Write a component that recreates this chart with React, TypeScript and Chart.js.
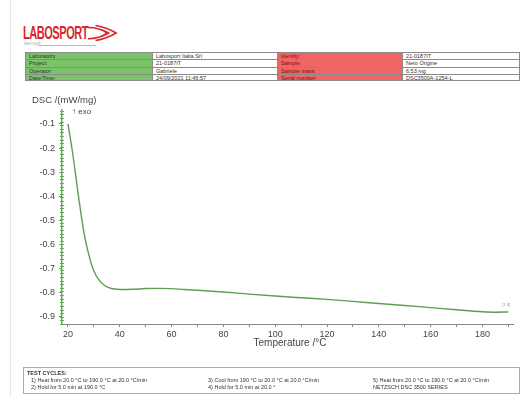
import React, { useEffect, useRef } from "react";
import { Chart, registerables } from "chart.js";

Chart.register(...registerables);

// ---- data ----
const temperatures = [20, 21, 22, 23, 24, 25, 26, 27, 28, 29, 30, 32, 34, 36, 38, 40, 45, 50, 55, 60, 65, 70, 80, 90, 100, 110, 120, 130, 140, 150, 160, 170, 180, 185, 190];
const dscValues = [-0.1, -0.165, -0.235, -0.315, -0.395, -0.47, -0.54, -0.595, -0.64, -0.68, -0.71, -0.748, -0.769, -0.78, -0.785, -0.787, -0.786, -0.783, -0.782, -0.783, -0.787, -0.79, -0.797, -0.806, -0.814, -0.821, -0.828, -0.836, -0.845, -0.853, -0.862, -0.871, -0.879, -0.881, -0.88];
const xTicks = [20, 30, 40, 50, 60, 70, 80, 90, 100, 110, 120, 130, 140, 150, 160, 170, 180, 190];
const xLabelTicks = [20, 40, 60, 80, 100, 120, 140, 160, 180];
const yTicks = [-0.9, -0.8, -0.7, -0.6, -0.5, -0.4, -0.3, -0.2, -0.1];

const headerLabelsLeft = ["Laboratory:", "Project:", "Operator:", "Date/Time:"];
const headerValuesLeft = ["Labosport Italia Srl", "21-0187IT", "Gabriele", "24/09/2021 11:45:57"];
const headerLabelsRight = ["Identity:", "Sample:", "Sample mass:", "Serial number:"];
const headerValuesRight = ["21-0187IT", "Nero Origine", "6.53 mg", "DSC3500A-1254-L"];

const cyclesCol1 = ["1) Heat from 20.0 °C to 190.0 °C at 20.0 °C/min", "2) Hold for 5.0 min at 190.0 °C"];
const cyclesCol2 = ["3) Cool from 190 °C to 20.0 °C at 20.0 °C/min", "4) Hold for 5.0 min at 20.0 °"];
const cyclesCol3 = ["5) Heat from 20.0 °C to 190.0 °C at 20.0 °C/min", "NETZSCH DSC 3500 SERIES"];

const FONT = "'Liberation Sans', Arial, sans-serif";
const GREEN_AXIS = "#5fae54";
const CURVE = "#5e9e52";

const overlayPlugin = {
  id: "overlayTexts",
  afterDraw(chart: any) {
    const ctx = chart.ctx;
    const { left, top } = chart.chartArea;
    const ys = chart.scales.y;
    const xs = chart.scales.x;
    ctx.save();
    // minor ticks on y axis
    ctx.strokeStyle = GREEN_AXIS;
    ctx.lineWidth = 1;
    for (let i = 0; i <= 60; i++) {
      const v = -0.93 + i * 0.015;
      const py = Math.round(ys.getPixelForValue(v)) + 0.5;
      if (py < top) break;
      ctx.beginPath();
      ctx.moveTo(left - 2, py);
      ctx.lineTo(left + 2, py);
      ctx.stroke();
    }
    ctx.fillStyle = "#444";
    ctx.textBaseline = "middle";
    ctx.textAlign = "left";
    ctx.font = `9.5px ${FONT}`;
    ctx.fillText("DSC /(mW/mg)", 32, 100);
    ctx.font = `8px ${FONT}`;
    ctx.fillText("\u2191 exo", 72, 112);
    ctx.font = `10px ${FONT}`;
    ctx.textAlign = "center";
    ctx.fillText("Temperature /\u00B0C", 290, 343);
    // small end label
    const lastX = xs.getPixelForValue(temperatures[temperatures.length - 1]);
    const lastY = ys.getPixelForValue(dscValues[dscValues.length - 1]);
    ctx.font = `4px ${FONT}`;
    ctx.fillStyle = "#999";
    ctx.textAlign = "center";
    ctx.fillText("[1.8]", lastX - 2, lastY - 7);
    ctx.restore();
  },
};

function DscChart() {
  const ref = useRef<HTMLCanvasElement | null>(null);
  useEffect(() => {
    if (!ref.current) return;
    const chart = new Chart(ref.current, {
      type: "line",
      data: {
        datasets: [
          {
            data: temperatures.map((t, i) => ({ x: t, y: dscValues[i] })),
            borderColor: CURVE,
            borderWidth: 1.4,
            pointRadius: 0,
            tension: 0.4,
            cubicInterpolationMode: "monotone",
            fill: false,
          },
        ],
      },
      options: {
        responsive: false,
        animation: false,
        devicePixelRatio: 1,
        layout: { padding: { left: 0, top: 110, right: 11, bottom: 52 } },
        plugins: { legend: { display: false }, tooltip: { enabled: false } },
        scales: {
          x: {
            type: "linear",
            min: 17.7,
            max: 191.8,
            afterFit: (s: any) => { s.height = 20; },
            afterBuildTicks: (s: any) => { s.ticks = xTicks.map((v) => ({ value: v })); },
            grid: { display: true, drawOnChartArea: false, drawTicks: true, tickLength: 3, color: "#888" },
            border: { display: true, color: "#888", width: 1 },
            ticks: {
              autoSkip: false,
              maxRotation: 0,
              padding: 2,
              color: "#444",
              font: { family: FONT, size: 9 },
              callback: (v: any) => (xLabelTicks.includes(Number(v)) ? String(v) : ""),
            },
          },
          y: {
            type: "linear",
            min: -0.93,
            max: -0.042,
            afterFit: (s: any) => { s.width = 62; },
            afterBuildTicks: (s: any) => { s.ticks = yTicks.map((v) => ({ value: v })); },
            grid: { display: true, drawOnChartArea: false, drawTicks: true, tickLength: 3, color: GREEN_AXIS },
            border: { display: true, color: GREEN_AXIS, width: 1.5 },
            ticks: {
              autoSkip: false,
              padding: 4,
              color: "#444",
              font: { family: FONT, size: 9 },
              callback: (v: any) => Number(v).toFixed(1),
            },
          },
        },
      },
      plugins: [overlayPlugin],
    } as any);
    return () => chart.destroy();
  }, []);
  return <canvas ref={ref} width={524} height={396} style={{ position: "absolute", left: 0, top: 0, width: 524, height: 396 }} />;
}

const colLefts = [25, 152, 277, 402];
const colWidths = [127, 125, 125, 118];
const rowTop = 52;
const rowH = 7.25;

function HeaderTable() {
  const cells: any[] = [];
  for (let r = 0; r < 4; r++) {
    const vals = [headerLabelsLeft[r], headerValuesLeft[r], headerLabelsRight[r], headerValuesRight[r]];
    const bgs = ["#7cc46a", "#fff", "#f26565", "#fff"];
    for (let c = 0; c < 4; c++) {
      cells.push(
        <div
          key={`${r}-${c}`}
          style={{
            position: "absolute",
            left: colLefts[c],
            top: rowTop + r * rowH,
            width: colWidths[c],
            height: rowH,
            boxSizing: "border-box",
            background: bgs[c],
            borderTop: "1px solid #8a8a8a",
            borderLeft: "1px solid #8a8a8a",
            borderRight: c === 3 ? "1px solid #8a8a8a" : undefined,
            borderBottom: r === 3 ? "1px solid #8a8a8a" : undefined,
            fontFamily: FONT,
            fontSize: 5.5,
            lineHeight: `${rowH - 1}px`,
            color: c === 2 ? "#7a1010" : "#333",
            paddingLeft: 3,
            whiteSpace: "nowrap",
            overflow: "hidden",
          }}
        >
          {vals[c]}
        </div>
      );
    }
  }
  return <>{cells}</>;
}

function Logo() {
  return (
    <>
      <div
        style={{
          position: "absolute",
          left: 23,
          top: 22,
          fontFamily: FONT,
          fontWeight: 700,
          fontSize: 19,
          letterSpacing: -0.8,
          color: "#d7262d",
          lineHeight: "21px",
          transform: "scaleX(0.58)",
          transformOrigin: "0 0",
          whiteSpace: "nowrap",
        }}
      >
        LABOSPORT
      </div>
      <svg style={{ position: "absolute", left: 88, top: 24 }} width={30} height={18} viewBox="0 0 32 18">
        <path d="M0 3 Q12 3 22 9 Q12 15 0 15" fill="none" stroke="#d7262d" strokeWidth={1.6} />
        <path d="M8 1 Q20 3 30 9 Q20 15 8 17" fill="none" stroke="#d7262d" strokeWidth={1.6} />
        <path d="M14 5 L20 9 L14 13" fill="none" stroke="#d7262d" strokeWidth={1.6} />
      </svg>
      <div style={{ position: "absolute", left: 24, top: 41, fontFamily: FONT, fontSize: 4, color: "#888", letterSpacing: 0.5 }}>GROUP</div>
      <div style={{ position: "absolute", left: 38, top: 45, width: 58, height: 1, background: "#bbb" }} />
    </>
  );
}

function Footer() {
  const cols = [
    { left: 30, lines: cyclesCol1 },
    { left: 207, lines: cyclesCol2 },
    { left: 372, lines: cyclesCol3 },
  ];
  return (
    <div
      style={{
        position: "absolute",
        left: 23,
        top: 367,
        width: 497,
        height: 27,
        boxSizing: "border-box",
        border: "1.5px solid #aaa",
        fontFamily: FONT,
        fontSize: 5.5,
        color: "#333",
      }}
    >
      <div style={{ position: "absolute", left: 3, top: 2, fontWeight: 700 }}>TEST CYCLES:</div>
      {cols.map((col, ci) =>
        col.lines.map((t, li) => (
          <div key={`${ci}-${li}`} style={{ position: "absolute", left: col.left - 23, top: 9 + li * 7, whiteSpace: "nowrap" }}>
            {t}
          </div>
        ))
      )}
    </div>
  );
}

export default function App() {
  return (
    <div style={{ position: "fixed", left: 0, top: 0, width: 524, height: 396, background: "#fff", overflow: "hidden" }}>
      <div style={{ position: "absolute", left: 10, top: 0, width: 1, height: 396, background: "#e4e4e4" }} />
      <Logo />
      <HeaderTable />
      <DscChart />
      <Footer />
    </div>
  );
}
